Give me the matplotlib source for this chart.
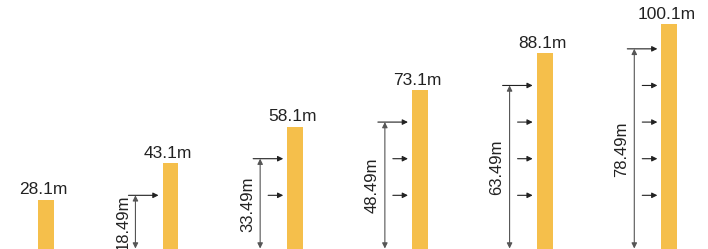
import matplotlib.pyplot as plt

# boom lengths (top labels) and dimension values
booms = [28.1, 43.1, 58.1, 73.1, 88.1, 100.1]
dims = [18.49, 33.49, 48.49, 63.49, 78.49]

bar_color = '#F5BF4B'
dim_off = 11.5          # dimension line starts this far above the cut-off
ybot, ytop = 8, 110

plt.rcParams['font.family'] = ['Liberation Sans', 'DejaVu Sans']

fig = plt.figure(figsize=(7.08, 2.49), dpi=100)
ax = fig.add_axes([0, 0, 1, 1])
ax.set_xlim(-0.367, 5.31)
ax.set_ylim(ybot, ytop)
ax.axis('off')

xs = list(range(len(booms)))
ax.bar(xs, booms, width=0.128, color=bar_color, zorder=2)

for x, b in zip(xs, booms):
    ax.text(x - 0.02, b + 1.0, f'{b}m', ha='center', va='bottom',
            fontsize=12.5, color='#222222')

levels = [d + dim_off for d in dims]
for k, d in enumerate(dims):
    x = xs[k + 1]
    xd = x - 0.281
    top = levels[k]
    # vertical dimension line
    ax.annotate('', xy=(xd, ybot + 0.2), xytext=(xd, top),
                arrowprops=dict(arrowstyle='<|-|>', color='#555555', lw=0.8,
                                mutation_scale=8, shrinkA=0, shrinkB=0))
    ax.text(xd - 0.1, (ybot + top) / 2, f'{d}m', rotation=90,
            ha='center', va='center', fontsize=12, color='#222222')
    # arrows pointing at the boom
    for j, lv in enumerate(levels[:k + 1]):
        start = x - 0.337 if j == k else x - 0.217
        ax.annotate('', xy=(x - 0.096, lv), xytext=(start, lv),
                    arrowprops=dict(arrowstyle='-|>', color='#222222', lw=0.8,
                                    mutation_scale=8, shrinkA=0, shrinkB=0))

fig.savefig('out.png', dpi=100)
